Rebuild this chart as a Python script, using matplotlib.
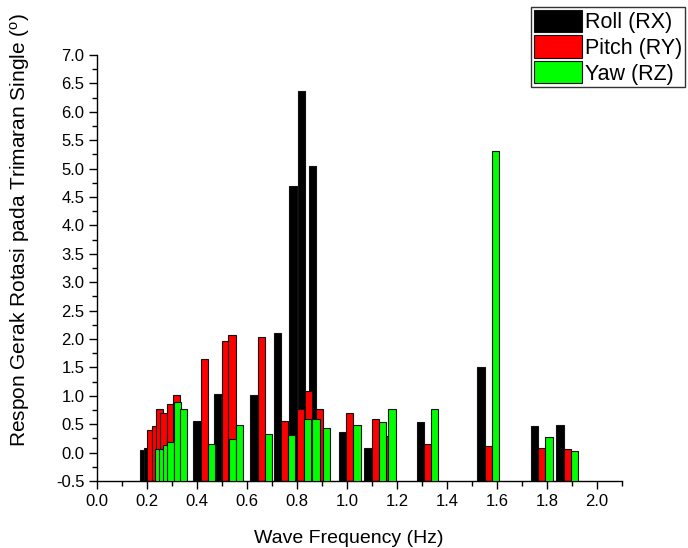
import matplotlib
matplotlib.use("Agg")
import matplotlib.pyplot as plt
from matplotlib.ticker import MultipleLocator, FormatStrFormatter
import numpy as np

plt.rcParams['font.family'] = ['Liberation Sans', 'DejaVu Sans']
plt.rcParams['mathtext.fontset'] = 'custom'
plt.rcParams['mathtext.rm'] = 'Liberation Sans'

# Wave frequencies (Hz) and rotational responses (deg)
freq = [0.216, 0.233, 0.250, 0.266, 0.293, 0.317, 0.429, 0.513, 0.540, 0.657,
        0.750, 0.813, 0.847, 0.890, 1.011, 1.113, 1.151, 1.322, 1.565, 1.779, 1.881]
roll = [0.05, 0.08, 0.10, 0.12, 0.15, 0.20, 0.56, 1.03, 1.00, 1.02,
        2.10, 4.70, 6.37, 5.05, 0.37, 0.08, 0.25, 0.54, 1.50, 0.46, 0.48]
pitch = [0.40, 0.47, 0.76, 0.70, 0.85, 1.02, 1.65, 1.96, 2.07, 2.03,
         0.55, 0.77, 1.08, 0.77, 0.69, 0.59, 0.30, 0.15, 0.12, 0.08, 0.07]
yaw = [0.07, 0.07, 0.14, 0.18, 0.89, 0.76, 0.15, 0.24, 0.48, 0.32,
       0.31, 0.60, 0.59, 0.43, 0.49, 0.53, 0.77, 0.77, 5.31, 0.28, 0.03]

series = [("Roll (RX)", roll, "#000000", -1),
          ("Pitch (RY)", pitch, "#ff0000", 0),
          ("Yaw (RZ)", yaw, "#00ff00", 1)]

fig = plt.figure(figsize=(6.88, 5.48), dpi=100)
ax = fig.add_axes([97 / 688, 1 - 481 / 548, 525 / 688, 426 / 548])

ymin, ymax = -0.5, 7.0
width = 0.029
x = np.array(freq)
handles = []
for label, vals, color, k in series:
    v = np.array(vals)
    b = ax.bar(x + k * width, v - ymin, bottom=ymin, width=width,
               color=color, edgecolor="#111111", linewidth=0.8,
               label=label, align="center", zorder=2 + k)
    handles.append(b)

ax.set_xlim(0.0, 2.1)
ax.set_ylim(ymin, ymax)
ax.xaxis.set_major_locator(MultipleLocator(0.2))
ax.xaxis.set_minor_locator(MultipleLocator(0.1))
ax.yaxis.set_major_locator(MultipleLocator(0.5))
ax.yaxis.set_minor_locator(MultipleLocator(0.25))
ax.xaxis.set_major_formatter(FormatStrFormatter('%.1f'))
ax.yaxis.set_major_formatter(FormatStrFormatter('%.1f'))

for s in ("top", "right"):
    ax.spines[s].set_visible(False)
for s in ("left", "bottom"):
    ax.spines[s].set_linewidth(1.0)

ax.tick_params(axis='both', which='major', direction='out', length=6, width=1.0,
               labelsize=12)
ax.tick_params(axis='y', which='major', pad=3)
ax.tick_params(axis='both', which='minor', direction='out', length=3.5, width=1.0)

ax.set_xlabel("Wave Frequency (Hz)", fontsize=14)
ax.set_ylabel(r"Respon Gerak Rotasi pada Trimaran Single ($\mathregular{^o}$)",
              fontsize=15)
ax.xaxis.set_label_coords(0.48, -0.114)
ax.yaxis.set_label_coords(-0.123, 0.59)

leg = fig.legend(handles=handles, loc="upper left",
                 bbox_to_anchor=(531 / 688, 1 - 7 / 548),
                 fontsize=15.5, frameon=True, fancybox=False, shadow=False,
                 handlelength=2.25, handleheight=1.2, handletextpad=0.15,
                 labelspacing=0.12, borderpad=0.12, borderaxespad=0.0)
leg.get_frame().set_edgecolor("#000000")
leg.get_frame().set_linewidth(1.0)

fig.savefig("out.png", dpi=100)
